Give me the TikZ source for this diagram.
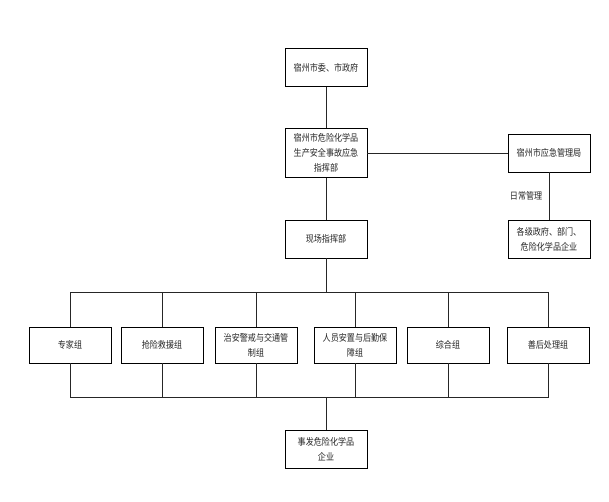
\documentclass[tikz,border=0pt]{standalone}
\usepackage{fontspec}
\usepackage{tikz}
\usepackage{xcolor}
\newfontfamily\cjk[FakeStretch=0.85]{Noto Sans CJK SC}

\begin{document}
\begin{tikzpicture}[x=1pt,y=-1pt,black!85,line width=0.8pt,
  box/.style={rectangle,draw=black,line width=0.9pt,minimum width=82pt,minimum height=38pt,inner sep=1pt,align=center,fill=white,text=black!85},
  every node/.style={font=\cjk\fontsize{9.5}{15}\selectfont}]
  \useasboundingbox (0,0) rectangle (609,501);

  \node[box] (top) at (326,67.5) {宿州市委、市政府};
  \node[box,minimum height=49pt] (cmd) at (326,153) {宿州市危险化学品\\生产安全事故应急\\指挥部};
  \node[box] (mgmt) at (549,153) {宿州市应急管理局};
  \node[box] (local) at (549,239) {各级政府、部门、\\危险化学品企业};
  \node[box] (scene) at (326,239) {现场指挥部};
  \node[box] (acc) at (326,449) {事发危险化学品\\企业};

  \coordinate (bt) at (326,292);
  \coordinate (bb) at (326,397);

  \draw (top) -- (cmd);
  \draw (cmd) -- (mgmt);
  \draw (mgmt) -- node[left,xshift=-3pt] {日常管理} (local);
  \draw (cmd) -- (scene);
  \draw (scene) -- (bt);

  \foreach \x /\alph/\name in {70/a/专家组, 162/b/抢险救援组, 256/c/治安警戒与交通管\\制组, 355/d/人员安置与后勤保\\障组, 448/e/综合组, 548/f/善后处理组}{
  \node[box,minimum height=36pt] (\alph) at (\x,345) {\name};
  \draw (\alph.north) |- (bt);
  \draw (\alph.south) |- (bb);
  }

  \draw (bb) -- (acc);

 \end{tikzpicture}
\end{document}
